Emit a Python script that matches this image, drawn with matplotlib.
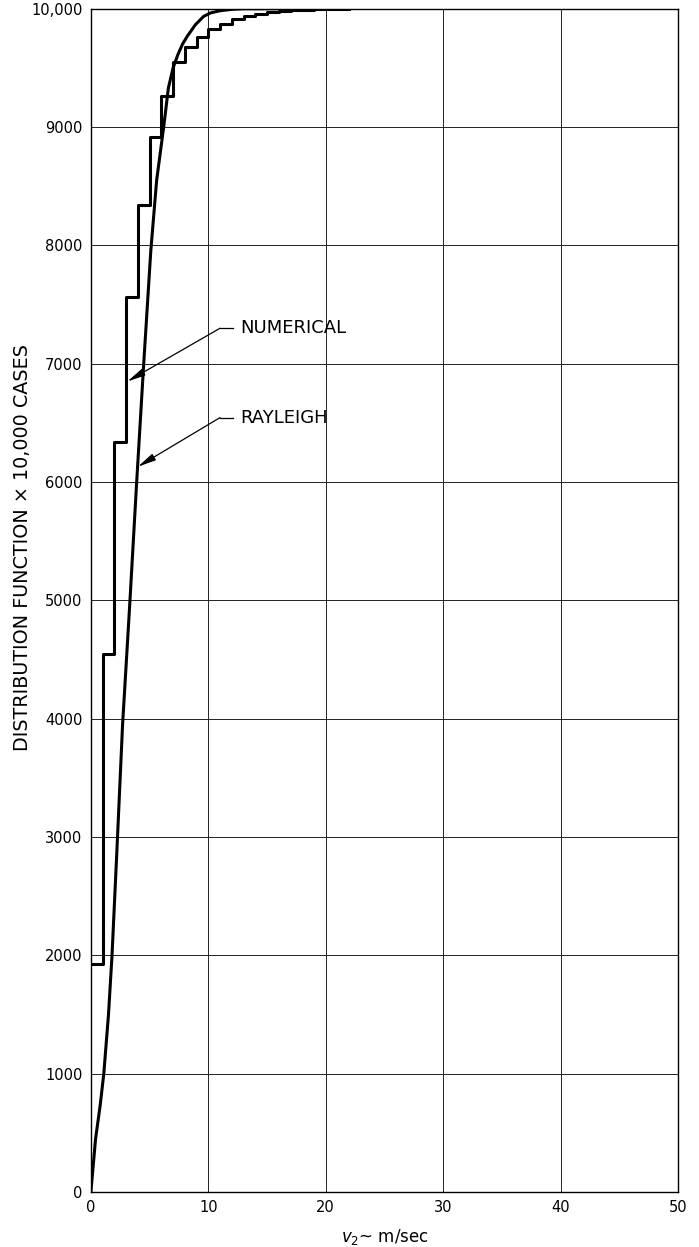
import matplotlib.pyplot as plt
import numpy as np

# numerical distribution: value from each step start (m/sec) onward
step_v = [0, 1, 2, 3, 4, 5, 6, 7, 8, 9, 10, 11, 12, 13, 14, 15, 16, 17, 19, 22]
step_f = [1930, 4550, 6340, 7560, 8340, 8920, 9265, 9550, 9676, 9760,
          9830, 9870, 9915, 9940, 9958, 9972, 9983, 9990, 9995, 10000]

# rayleigh curve, points
ray_v = [0, 0.4, 0.8, 1.1, 1.5, 1.8, 2.2, 2.7, 3.3, 3.9, 4.5, 5.1, 5.6,
         6.2, 6.6, 7.0, 7.4, 7.8, 8.2, 8.9, 9.6, 10.2, 11.0, 12.0, 13.0, 22.0]
ray_f = [0, 450, 740, 1000, 1500, 2000, 2850, 3950, 4950, 6000, 7000, 7950, 8550,
         9000, 9330, 9500, 9610, 9700, 9766, 9865, 9935, 9965, 9983, 9995, 10000, 10000]

x_ticks = [0, 10, 20, 30, 40, 50]
y_ticks = [0, 1000, 2000, 3000, 4000, 5000, 6000, 7000, 8000, 9000, 10000]
y_labels = ['0', '1000', '2000', '3000', '4000', '5000', '6000', '7000',
            '8000', '9000', '10,000']

plt.rcParams.update({'font.family': 'DejaVu Sans', 'font.size': 10})
fig = plt.figure(figsize=(6.99, 12.47), dpi=100)
ax = fig.add_axes([0.130, 0.044, 0.840, 0.949])

ax.set_xlim(0, 50)
ax.set_ylim(0, 10000)
ax.set_xticks(x_ticks)
ax.set_xticklabels([str(t) for t in x_ticks], fontsize=10.5)
ax.set_yticks(y_ticks)
ax.set_yticklabels(y_labels, fontsize=10.5)
ax.tick_params(length=0, pad=6)
ax.grid(True, color='#222222', lw=0.7)
ax.set_axisbelow(True)
for s in ax.spines.values():
    s.set_linewidth(1.0)

ax.step(step_v, step_f, where='post', color='black', lw=2.2, zorder=3)
ax.plot(ray_v, ray_f, color='black', lw=2.2, zorder=3)

# leader labels
labels = [('NUMERICAL', 7300, (3.1, 6850)), ('RAYLEIGH', 6545, (4.0, 6130))]
for txt, ty, tip in labels:
    ax.plot([11.0, 12.1], [ty, ty], color='black', lw=0.9, zorder=4)
    ax.annotate('', xy=tip, xytext=(11.0, ty),
                arrowprops=dict(arrowstyle='-|>,head_length=1.1,head_width=0.22',
                                color='black', lw=0.9, shrinkA=0, shrinkB=0),
                zorder=4)
    ax.text(12.7, ty, txt, fontsize=13, va='center', ha='left')

ax.set_ylabel('DISTRIBUTION FUNCTION \u00d7 10,000 CASES', fontsize=13.8)
ax.yaxis.set_label_coords(-0.10, 0.545)
ax.set_xlabel(r'$v_2$~ m/sec', fontsize=12, labelpad=8)

fig.savefig('out.png', dpi=100)
